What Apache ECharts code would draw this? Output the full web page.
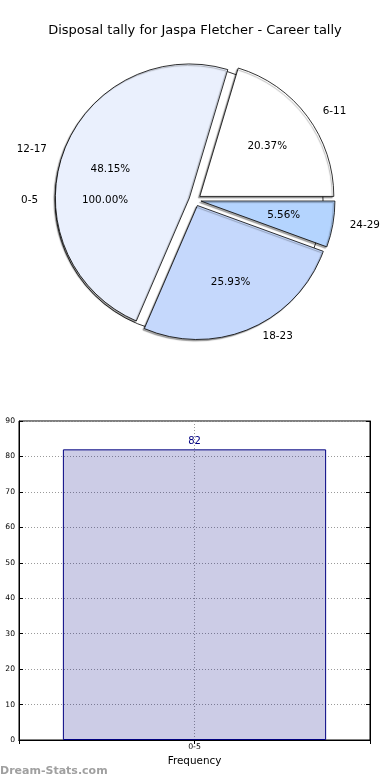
<!DOCTYPE html>
<html><head><meta charset="utf-8">
<script src="https://cdn.jsdelivr.net/npm/echarts@6/dist/echarts.min.js"></script>
<style>html,body{margin:0;padding:0;background:#fff}#c{width:390px;height:780px}</style>
</head><body><div id="c"></div>
<script>
const titleText = 'Disposal tally for Jaspa Fletcher - Career tally';
const outerCategories = ['0-5'];
const outerValues = [82];
const pieCategories = ['6-11', '12-17', '18-23', '24-29'];
const pieValues = [11, 26, 14, 3];
const pieColors = ['#ffffff', '#eaf0fd', '#c5d8fc', '#b4d4fe'];
const barCategories = ['0-5'];
const barValues = [82];
const barAxisName = 'Frequency';
const watermark = 'Dream-Stats.com';

const FONT = 'DejaVu Sans';
const CENTER = [195, 200];
const R = 134;
const OFF = 6;

function makeData(names, values, colors) {
  return names.map((n, i) => ({
    name: n, value: values[i], selected: true,
    itemStyle: { color: colors[i] },
    select: { itemStyle: { color: colors[i], borderColor: '#000', borderWidth: 0.8 } }
  }));
}

function visiblePie(names, values, colors, z, shadow) {
  return {
    type: 'pie', z: z, center: CENTER, radius: [0, R], startAngle: 0, clockwise: false,
    selectedMode: 'multiple', selectedOffset: OFF, silent: true, avoidLabelOverlap: false,
    animation: false, emphasis: { disabled: true },
    label: { show: true, position: 'outside', formatter: '{b}', fontSize: 10.4, color: '#000',
      fontFamily: FONT, distanceToLabelLine: 5 },
    labelLine: { show: false, length: 8, length2: 4 },
    itemStyle: Object.assign({ borderColor: '#000', borderWidth: 0.8 }, shadow ? {
      shadowColor: 'rgba(0,0,0,0.35)', shadowBlur: 1, shadowOffsetX: -1.5, shadowOffsetY: 1.5 } : {}),
    data: makeData(names, values, colors)
  };
}

function labelPie(names, values, z) {
  const total = values.reduce((a, b) => a + b, 0);
  return {
    type: 'pie', z: z, center: CENTER, radius: [0, 162], startAngle: 0, clockwise: false,
    selectedMode: 'multiple', selectedOffset: OFF, silent: true, avoidLabelOverlap: false,
    animation: false, emphasis: { disabled: true },
    label: { show: true, position: 'inside', fontSize: 10.4, color: '#000', fontFamily: FONT,
      formatter: p => (p.value / total * 100).toFixed(2) + '%' },
    labelLine: { show: false },
    itemStyle: { color: 'rgba(0,0,0,0)', borderWidth: 0 },
    data: names.map((n, i) => ({ name: n, value: values[i], selected: true,
      select: { itemStyle: { color: 'rgba(0,0,0,0)', borderWidth: 0 } } }))
  };
}

const chart = echarts.init(document.getElementById('c'), null, { renderer: 'canvas' });
const dotted = { type: [1, 2], color: '#9a9a9a', width: 1 };
chart.setOption({
  animation: false,
  textStyle: { fontFamily: FONT },
  title: { text: titleText, left: 'center', top: 19,
    textStyle: { fontSize: 13, fontWeight: 'normal', color: '#000', fontFamily: FONT } },
  graphic: [{ type: 'text', left: 0, top: 766,
    style: { text: watermark, fill: '#a0a0a0', font: 'bold 11px "DejaVu Sans"' } }],
  grid: { left: 19, right: 20, top: 421, bottom: 40, show: true, borderColor: '#000', borderWidth: 1 },
  xAxis: [{
    type: 'category', data: barCategories, position: 'bottom',
    axisLine: { lineStyle: { color: '#000', width: 1 } },
    axisTick: { inside: true, alignWithLabel: true, length: 4, lineStyle: { color: '#000' } },
    axisLabel: { fontSize: 7.8, color: '#000', margin: 3 },
    splitLine: { show: false },
    name: barAxisName, nameLocation: 'middle', nameGap: 16,
    nameTextStyle: { fontSize: 10.4, color: '#000', fontFamily: FONT }
  }, {
    type: 'value', position: 'top', min: 0, max: 1, interval: 0.5,
    axisLine: { show: true, lineStyle: { color: '#000', width: 1 } },
    axisTick: { show: true, inside: true, length: 4, lineStyle: { color: '#000' } },
    axisLabel: { show: false },
    splitLine: { show: true, lineStyle: dotted }
  }],
  yAxis: [{
    type: 'value', min: 0, max: 90, interval: 10,
    axisLine: { show: true, lineStyle: { color: '#000', width: 1 } },
    axisTick: { show: true, inside: true, length: 4, lineStyle: { color: '#000' } },
    axisLabel: { fontSize: 7.6, color: '#000', margin: 4 },
    splitLine: { show: true, lineStyle: dotted }
  }, {
    type: 'value', position: 'right', min: 0, max: 90, interval: 10,
    axisLine: { show: true, lineStyle: { color: '#000', width: 1 } },
    axisTick: { show: true, inside: true, length: 4, lineStyle: { color: '#000' } },
    axisLabel: { show: false }, splitLine: { show: false }
  }],
  series: [
    visiblePie(outerCategories, outerValues, ['#ffffff'], 1, false),
    visiblePie(pieCategories, pieValues, pieColors, 2, true),
    labelPie(outerCategories, outerValues, 3),
    labelPie(pieCategories, pieValues, 3),
    {
      type: 'bar', xAxisIndex: 0, yAxisIndex: 0, data: barValues, barWidth: '75%', silent: true,
      itemStyle: { color: 'rgba(0,0,128,0.2)', borderColor: '#000080', borderWidth: 1 },
      label: { show: true, position: 'top', distance: 3, color: '#000080', fontSize: 10, fontFamily: FONT }
    }
  ]
});
</script>
</body></html>
